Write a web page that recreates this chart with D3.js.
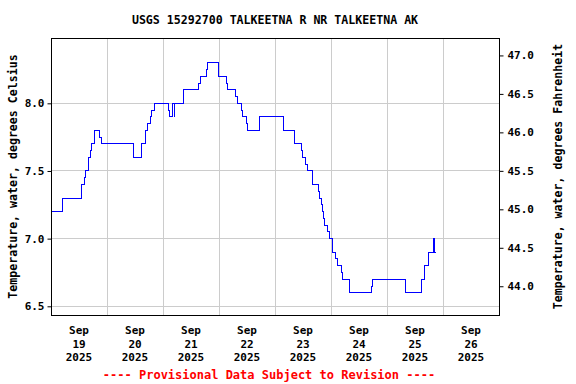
<!DOCTYPE html>
<html>
<head>
<meta charset="utf-8">
<script src="https://cdn.jsdelivr.net/npm/d3@7"></script>
<style>
  body { margin: 0; background: #fff; }
  svg text { font-family: "DejaVu Sans Mono", "Liberation Mono", monospace; font-weight: bold; }
</style>
</head>
<body>
<svg id="chart" width="576" height="384"></svg>
<script>
// water temperature, deg C, readings where the value changes
const times = [
  "2025-09-19 00:00", "2025-09-19 04:30", "2025-09-19 04:45", "2025-09-19 13:00", "2025-09-19 14:00",
  "2025-09-19 14:45", "2025-09-19 15:45", "2025-09-19 16:30", "2025-09-19 17:15", "2025-09-19 18:30",
  "2025-09-19 20:30", "2025-09-19 21:15", "2025-09-20 11:15", "2025-09-20 14:30", "2025-09-20 16:15",
  "2025-09-20 17:00", "2025-09-20 18:15", "2025-09-20 18:45", "2025-09-20 20:15", "2025-09-21 02:00",
  "2025-09-21 02:30", "2025-09-21 04:00", "2025-09-21 04:30", "2025-09-21 04:45", "2025-09-21 08:45",
  "2025-09-21 15:00", "2025-09-21 15:45", "2025-09-21 18:15", "2025-09-21 19:00", "2025-09-21 23:30",
  "2025-09-22 03:00", "2025-09-22 03:30", "2025-09-22 07:00", "2025-09-22 07:30", "2025-09-22 09:30",
  "2025-09-22 10:00", "2025-09-22 11:45", "2025-09-22 12:00", "2025-09-22 17:00", "2025-09-22 17:15",
  "2025-09-23 03:30", "2025-09-23 08:15", "2025-09-23 11:00", "2025-09-23 11:30", "2025-09-23 13:00",
  "2025-09-23 13:30", "2025-09-23 16:00", "2025-09-23 18:30", "2025-09-23 18:45", "2025-09-23 19:30",
  "2025-09-23 20:00", "2025-09-23 20:45", "2025-09-23 21:00", "2025-09-23 22:15", "2025-09-23 23:00",
  "2025-09-24 00:15", "2025-09-24 00:30", "2025-09-24 01:45", "2025-09-24 02:30", "2025-09-24 04:15",
  "2025-09-24 04:30", "2025-09-24 07:45", "2025-09-24 17:15", "2025-09-24 17:45", "2025-09-25 07:30",
  "2025-09-25 07:45", "2025-09-25 14:45", "2025-09-25 16:00", "2025-09-25 17:30", "2025-09-25 19:30",
  "2025-09-25 19:45", "2025-09-25 20:15", "2025-09-25 20:45"
];
const tempC = [
  7.2, 7.25, 7.3, 7.4, 7.45,
  7.5, 7.6, 7.65, 7.7, 7.8,
  7.75, 7.7, 7.6, 7.7, 7.8,
  7.85, 7.9, 7.95, 8.0, 7.95,
  7.9, 8.0, 7.9, 8.0, 8.1,
  8.15, 8.2, 8.25, 8.3, 8.2,
  8.15, 8.1, 8.05, 8.0, 7.95,
  7.9, 7.85, 7.8, 7.85, 7.9,
  7.8, 7.7, 7.65, 7.6, 7.55,
  7.5, 7.4, 7.35, 7.3, 7.25,
  7.2, 7.15, 7.1, 7.05, 7.0,
  6.95, 6.9, 6.85, 6.8, 6.75,
  6.7, 6.6, 6.65, 6.7, 6.65,
  6.6, 6.7, 6.8, 6.9, 6.95,
  7.0, 6.9, 6.9
];

const dayTicks = ["2025-09-19", "2025-09-20", "2025-09-21", "2025-09-22", "2025-09-23", "2025-09-24", "2025-09-25", "2025-09-26"];
const celsiusTicks = [6.5, 7.0, 7.5, 8.0];
const fahrenheitTicks = [44.0, 44.5, 45.0, 45.5, 46.0, 46.5, 47.0];

const parseTime = d3.timeParse("%Y-%m-%d %H:%M");
const parseDay = d3.timeParse("%Y-%m-%d");

const data = times.map((t, i) => ({ t: parseTime(t), v: tempC[i] }));

const box = { left: 51, right: 499, top: 38, bottom: 315 };

const svg = d3.select('#chart');

const x = d3.scaleTime()
    .domain([parseDay("2025-09-19"), parseDay("2025-09-27")])
    .range([box.left, box.right]);

const y = d3.scaleLinear()
    .domain([6.432, 8.479])
    .range([box.bottom, box.top]);

const yF = d3.scaleLinear()
    .domain([43.62, 47.22])
    .range([box.bottom, box.top]);

// grid
const midnights = d3.timeDay.range(parseDay("2025-09-20"), parseDay("2025-09-27"));
svg.append('g')
    .selectAll('line')
    .data(midnights)
    .join('line')
        .attr('x1', d => Math.round(x(d)) + 0.5).attr('x2', d => Math.round(x(d)) + 0.5)
        .attr('y1', box.top).attr('y2', box.bottom)
        .style('stroke', '#cccccc')
        .style('stroke-width', 1);

svg.append('g')
    .selectAll('line')
    .data(celsiusTicks)
    .join('line')
        .attr('x1', box.left).attr('x2', box.right)
        .attr('y1', d => Math.round(y(d)) + 0.5).attr('y2', d => Math.round(y(d)) + 0.5)
        .style('stroke', '#cccccc')
        .style('stroke-width', 1);

// data line
const line = d3.line()
    .x(d => Math.round(x(d.t)) + 0.5)
    .y(d => Math.round(y(d.v)) + 0.5)
    .curve(d3.curveStepAfter);

svg.append('path')
    .datum(data)
    .attr('d', line)
    .style('fill', 'none')
    .style('stroke', '#0000ff')
    .style('stroke-width', 1)
    .style('shape-rendering', 'crispEdges');

// frame
svg.append('rect')
    .attr('x', box.left + 0.5)
    .attr('y', box.top + 0.5)
    .attr('width', box.right - box.left)
    .attr('height', box.bottom - box.top)
    .style('fill', 'none')
    .style('stroke', 'black')
    .style('stroke-width', 1);

// left axis
const leftAxis = svg.append('g')
    .attr('transform', `translate(${box.left + 0.5},0.5)`)
    .call(d3.axisLeft(y).tickValues(celsiusTicks).tickFormat(d3.format('.1f')).tickSize(4).tickPadding(3));
leftAxis.select('.domain').remove();
leftAxis.selectAll('text').style('font-size', '11px').style('fill', 'black');

// right axis
const rightAxis = svg.append('g')
    .attr('transform', `translate(${box.right + 0.5},0.5)`)
    .call(d3.axisRight(yF).tickValues(fahrenheitTicks).tickFormat(d3.format('.1f')).tickSize(4).tickPadding(4));
rightAxis.select('.domain').remove();
rightAxis.selectAll('text').style('font-size', '11px').style('fill', 'black');

// day labels at noon
const dayLabels = svg.append('g')
    .selectAll('text')
    .data(dayTicks.map(parseDay))
    .join('text')
        .attr('x', d => x(d3.timeHour.offset(d, 12)))
        .attr('y', 334)
        .attr('text-anchor', 'middle')
        .style('font-size', '11px');
dayLabels.append('tspan').attr('x', d => x(d3.timeHour.offset(d, 12))).attr('dy', 0).text(d3.timeFormat('%b'));
dayLabels.append('tspan').attr('x', d => x(d3.timeHour.offset(d, 12))).attr('dy', 13.5).text(d3.timeFormat('%d'));
dayLabels.append('tspan').attr('x', d => x(d3.timeHour.offset(d, 12))).attr('dy', 13.5).text(d3.timeFormat('%Y'));

// titles
svg.append('text')
    .attr('x', 275)
    .attr('y', 24)
    .attr('text-anchor', 'middle')
    .style('font-size', '11.6px')
    .text('USGS 15292700 TALKEETNA R NR TALKEETNA AK');

svg.append('text')
    .attr('transform', `translate(17,${(box.top + box.bottom) / 2}) rotate(-90)`)
    .attr('text-anchor', 'middle')
    .style('font-size', '11.6px')
    .text('Temperature, water, degrees Celsius');

svg.append('text')
    .attr('transform', `translate(562,${(box.top + box.bottom) / 2}) rotate(-90)`)
    .attr('text-anchor', 'middle')
    .style('font-size', '11.6px')
    .text('Temperature, water, degrees Fahrenheit');

svg.append('text')
    .attr('x', 269)
    .attr('y', 379)
    .attr('text-anchor', 'middle')
    .style('font-size', '12px')
    .style('fill', '#ff0000')
    .text('---- Provisional Data Subject to Revision ----');
</script>
</body>
</html>
